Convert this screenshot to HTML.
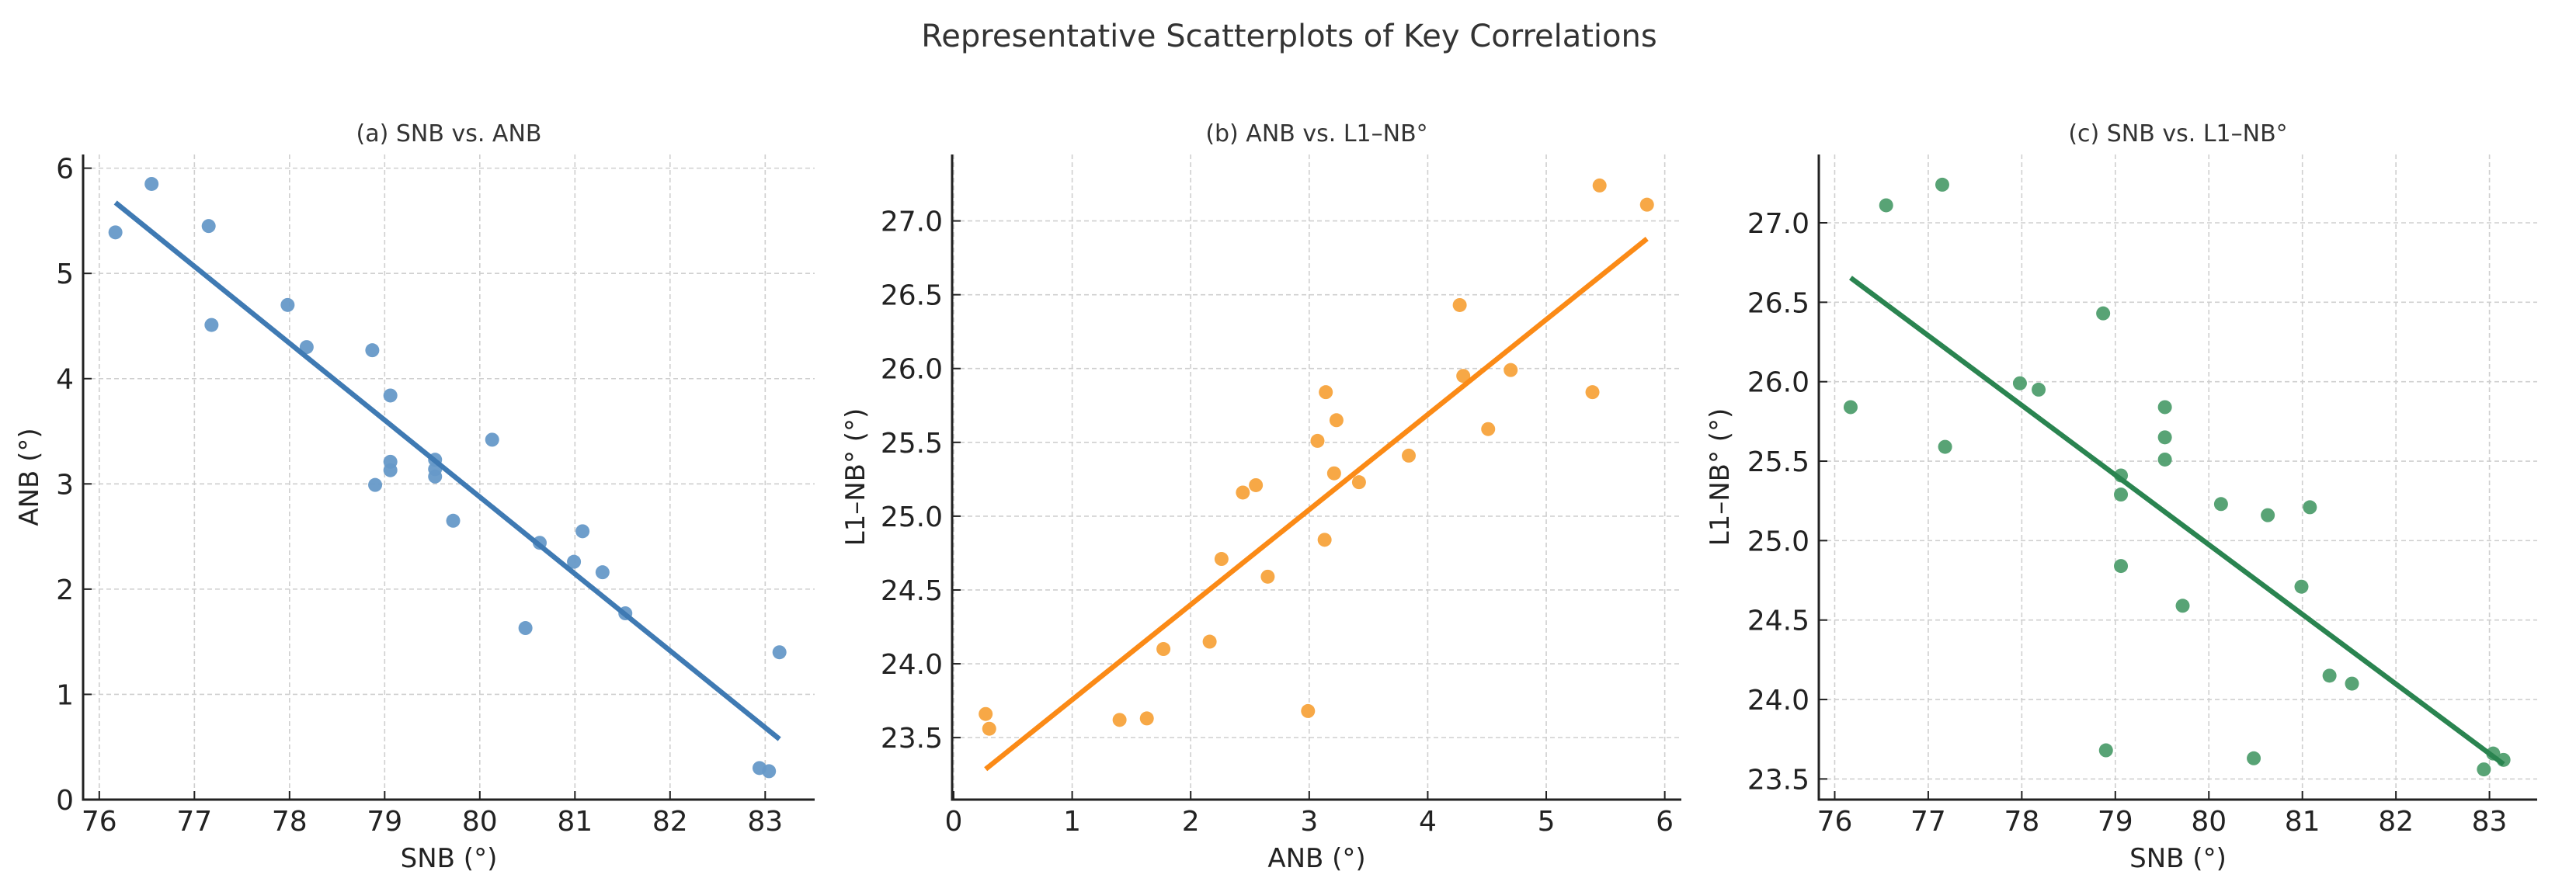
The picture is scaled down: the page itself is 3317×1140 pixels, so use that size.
<!DOCTYPE html>
<html><head><meta charset="utf-8"><style>
html,body{margin:0;padding:0;background:#fff;}
svg{display:block;font-family:"DejaVu Sans","Liberation Sans",sans-serif;}
</style></head><body>
<svg id="fig" width="3317" height="1140" viewBox="0 0 3317 1140" xmlns="http://www.w3.org/2000/svg">
<rect width="3317" height="1140" fill="#fff"/>
<text x="1660" y="60" font-size="40" fill="#333" text-anchor="middle">Representative Scatterplots of Key Correlations</text>
</svg>
<script>
const snb=[76.17,76.55,77.15,77.18,77.98,78.18,78.87,78.90,79.06,79.06,79.06,79.53,79.53,79.53,79.72,80.13,80.48,80.63,80.99,81.08,81.29,81.53,82.94,83.04,83.15];
const anb=[5.39,5.85,5.45,4.51,4.70,4.30,4.27,2.99,3.84,3.21,3.13,3.14,3.23,3.07,2.65,3.42,1.63,2.44,2.26,2.55,2.16,1.77,0.30,0.27,1.40];
const l1nb=[25.84,27.11,27.24,25.59,25.99,25.95,26.43,23.68,25.41,25.29,24.84,25.84,25.65,25.51,24.59,25.23,23.63,25.16,24.71,25.21,24.15,24.10,23.56,23.66,23.62];
const snbTicks=[76,77,78,79,80,81,82,83];
const anbTicksY=[0,1,2,3,4,5,6];
const anbTicksX=[0,1,2,3,4,5,6];
const l1Ticks=[23.5,24.0,24.5,25.0,25.5,26.0,26.5,27.0];

const NS="http://www.w3.org/2000/svg";
const svg=document.getElementById('fig');
function mk(tag,attrs,parent){const e=document.createElementNS(NS,tag);for(const k in attrs)e.setAttribute(k,attrs[k]);(parent||svg).appendChild(e);return e;}

const panels=[
 {key:'a',title:'(a) SNB vs. ANB',xs:snb,ys:anb,xl:'SNB (°)',yl:'ANB (°)',
  px0:107,px1:1049,xd0:75.83,xd1:83.52,py0:1030,py1:199,yd0:0,yd1:6.13,
  xt:snbTicks,yt:anbTicksY,fmtY:v=>String(v),fmtX:v=>String(v),ylx:38,
  dot:'#6699c8',line:'#3f7ab3'},
 {key:'b',title:'(b) ANB vs. L1–NB°',xs:anb,ys:l1nb,xl:'ANB (°)',yl:'L1–NB° (°)',
  px0:1226,px1:2165,xd0:-0.013,xd1:6.14,py0:1030,py1:199,yd0:23.08,yd1:27.45,
  xt:anbTicksX,yt:l1Ticks,fmtY:v=>v.toFixed(1),fmtX:v=>String(v),ylx:1102,
  dot:'#f7a33c',line:'#fb8a16'},
 {key:'c',title:'(c) SNB vs. L1–NB°',xs:snb,ys:l1nb,xl:'SNB (°)',yl:'L1–NB° (°)',
  px0:2342,px1:3267,xd0:75.83,xd1:83.51,py0:1030,py1:199,yd0:23.37,yd1:27.43,
  xt:snbTicks,yt:l1Ticks,fmtY:v=>v.toFixed(1),fmtX:v=>String(v),ylx:2215,
  dot:'#4f9e6e',line:'#2a8450'}
];

panels.forEach(p=>{
  const X=v=>p.px0+(v-p.xd0)/(p.xd1-p.xd0)*(p.px1-p.px0);
  const Y=v=>p.py0-(v-p.yd0)/(p.yd1-p.yd0)*(p.py0-p.py1);
  const g=mk('g',{});
  
  
  p.xt.forEach(t=>{const l=mk('line',{x1:X(t),x2:X(t),y1:p.py1,y2:p.py0,stroke:'#cfcfcf','stroke-width':1.6,'stroke-dasharray':'6,4'},g);
    });
  p.yt.forEach(t=>{const l=mk('line',{x1:p.px0,x2:p.px1,y1:Y(t),y2:Y(t),stroke:'#cfcfcf','stroke-width':1.6,'stroke-dasharray':'6,4'},g);
    });
  p.xs.forEach((xv,i)=>{const c=mk('circle',{cx:X(xv),cy:Y(p.ys[i]),r:9,fill:p.dot,'fill-opacity':0.95},g);
    });
  const n=p.xs.length;let mx=0,my=0;p.xs.forEach((v,i)=>{mx+=v;my+=p.ys[i];});mx/=n;my/=n;
  let sxy=0,sxx=0;p.xs.forEach((v,i)=>{sxy+=(v-mx)*(p.ys[i]-my);sxx+=(v-mx)*(v-mx);});
  const b=sxy/sxx,a=my-b*mx;const xmin=Math.min(...p.xs),xmax=Math.max(...p.xs);
  const rl=mk('line',{x1:X(xmin),y1:Y(a+b*xmin),x2:X(xmax),y2:Y(a+b*xmax),stroke:p.line,'stroke-width':6.5},g);
  
  const sp=mk('path',{d:`M${p.px0},${p.py1} L${p.px0},${p.py0} L${p.px1},${p.py0}`,fill:'none',stroke:'#222','stroke-width':3},g);
  
  p.xt.forEach(t=>{mk('line',{x1:X(t),x2:X(t),y1:p.py0,y2:p.py0-11,stroke:'#222','stroke-width':2},g);
    const tx=mk('text',{x:X(t),y:1070,'font-size':36,'text-anchor':'middle',fill:'#222'},g);tx.textContent=p.fmtX(t);
    });
  p.yt.forEach(t=>{mk('line',{x1:p.px0,x2:p.px0+11,y1:Y(t),y2:Y(t),stroke:'#222','stroke-width':2},g);
    const tx=mk('text',{x:p.px0-12,y:Y(t)+13,'font-size':36,'text-anchor':'end',fill:'#222'},g);tx.textContent=p.fmtY(t);
    });
  const t1=mk('text',{x:(p.px0+p.px1)/2,y:182,'font-size':30,'text-anchor':'middle',fill:'#333'},g);t1.textContent=p.title;
  
  const xl=mk('text',{x:(p.px0+p.px1)/2,y:1117,'font-size':34,'text-anchor':'middle',fill:'#222'},g);xl.textContent=p.xl;
  
  const cy=(p.py0+p.py1)/2;
  const yl=mk('text',{x:p.ylx,y:cy,'font-size':34,'text-anchor':'middle','dominant-baseline':'central',fill:'#222',transform:`rotate(-90 ${p.ylx} ${cy})`},g);yl.textContent=p.yl;
  
});
</script>
</body></html>
